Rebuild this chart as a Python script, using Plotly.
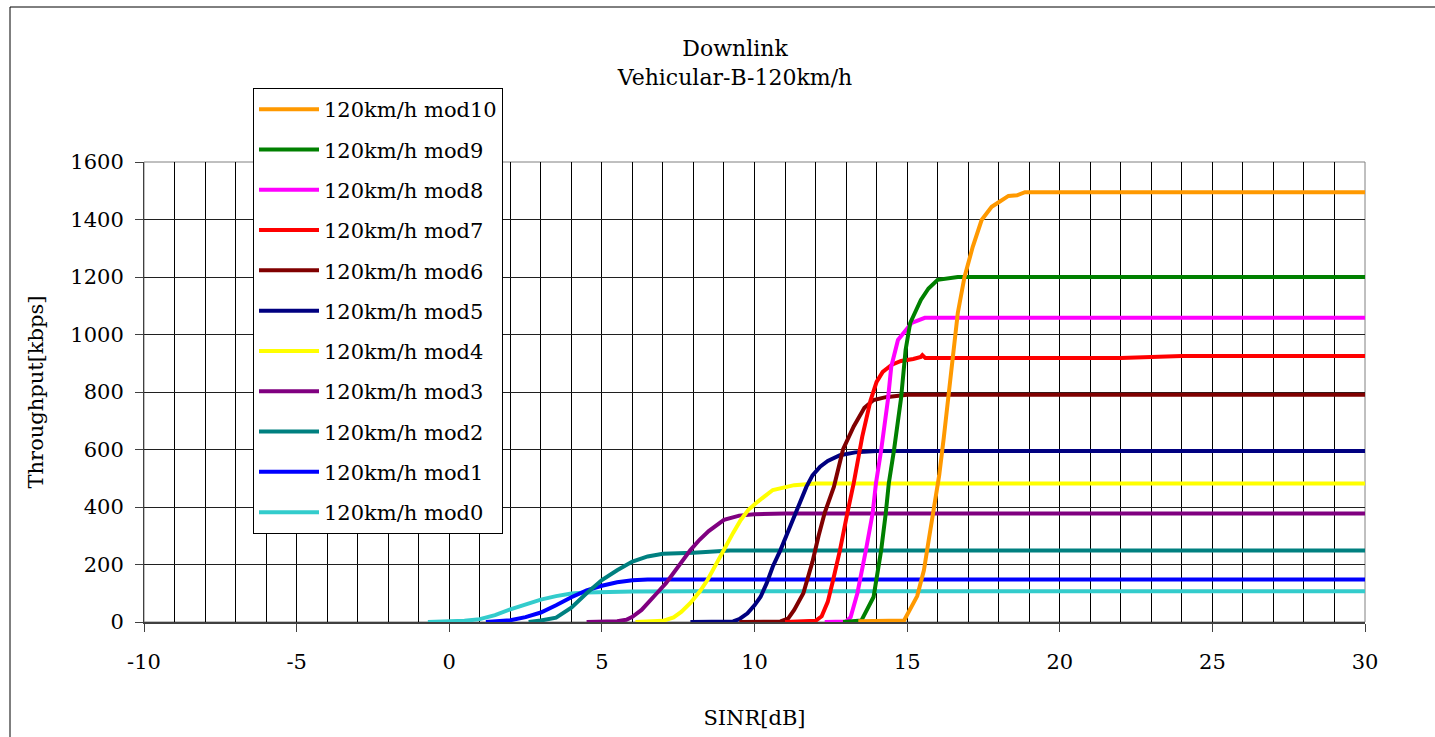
import plotly.graph_objects as go

# ---- data ----
series_names = ["120km/h mod0", "120km/h mod1", "120km/h mod2", "120km/h mod3",
                "120km/h mod4", "120km/h mod5", "120km/h mod6", "120km/h mod7",
                "120km/h mod8", "120km/h mod9", "120km/h mod10"]
series_colors = ["#33CCCC", "#0000FF", "#008080", "#800080", "#FFFF00", "#000080",
                 "#800000", "#FF0000", "#FF00FF", "#008000", "#FF9900"]

x_mod0 = [-0.7, 0.0, 0.5, 1.0, 1.5, 2.0, 2.5, 3.0, 3.5, 4.0, 4.5, 5.0, 6.0, 8.0, 30.0]
y_mod0 = [0, 1, 4, 10, 24, 44, 62, 78, 90, 99, 103, 105, 106, 107, 107]

x_mod1 = [1.2, 2.0, 2.5, 3.0, 3.5, 4.0, 4.5, 5.0, 5.5, 6.0, 6.5, 8.0, 30.0]
y_mod1 = [0, 6, 17, 33, 58, 86, 110, 126, 138, 145, 148, 148, 148]

x_mod2 = [2.6, 3.0, 3.5, 4.0, 4.5, 5.0, 5.5, 6.0, 6.5, 7.0, 8.0, 9.0, 9.2, 30.0]
y_mod2 = [0, 5, 15, 50, 100, 146, 180, 210, 228, 237, 241, 245, 249, 249]

x_mod3 = [4.5, 5.5, 5.8, 6.0, 6.3, 6.6, 6.8, 7.1, 7.35, 7.6, 7.9, 8.2, 8.5, 9.0, 9.5, 10.0, 11.0, 30.0]
y_mod3 = [0, 3, 8, 18, 42, 75, 100, 135, 170, 210, 250, 286, 316, 355, 370, 375, 377, 377]

x_mod4 = [6.1, 7.0, 7.35, 7.6, 7.9, 8.2, 8.46, 8.7, 9.0, 9.3, 9.55, 9.8, 10.1, 10.6, 11.3, 12.0, 30.0]
y_mod4 = [0, 4, 16, 35, 66, 105, 146, 195, 250, 310, 355, 390, 418, 459, 476, 482, 482]

x_mod5 = [7.9, 9.3, 9.5, 9.77, 10.0, 10.2, 10.4, 10.6, 10.85, 11.07, 11.3, 11.5, 11.7, 11.9, 12.15, 12.4, 12.8, 13.3, 14.0, 30.0]
y_mod5 = [0, 2, 10, 30, 58, 88, 135, 193, 250, 309, 370, 424, 470, 510, 540, 560, 580, 590, 595, 595]

x_mod6 = [9.5, 10.85, 11.1, 11.3, 11.6, 11.9, 12.1, 12.3, 12.6, 12.9, 13.25, 13.6, 13.9, 14.3, 15.0, 30.0]
y_mod6 = [0, 2, 12, 42, 100, 210, 300, 380, 470, 600, 680, 745, 772, 782, 790, 790]

x_mod7 = [11.0, 12.0, 12.2, 12.4, 12.55, 12.8, 13.04, 13.25, 13.53, 13.8, 14.0, 14.2, 14.5, 14.8, 15.2, 15.45, 15.5, 15.6, 22.0, 24.0, 30.0]
y_mod7 = [0, 4, 20, 70, 135, 250, 378, 483, 645, 770, 835, 870, 895, 908, 915, 922, 928, 918, 918, 925, 925]

x_mod8 = [12.3, 13.0, 13.15, 13.37, 13.65, 13.87, 13.98, 14.15, 14.37, 14.48, 14.7, 15.15, 15.58, 30.0]
y_mod8 = [0, 2, 17, 100, 250, 378, 483, 598, 772, 888, 981, 1040, 1058, 1058]

x_mod9 = [12.9, 13.5, 13.9, 14.15, 14.3, 14.4, 14.57, 14.8, 14.95, 15.1, 15.45, 15.7, 16.0, 16.66, 30.0]
y_mod9 = [0, 5, 87, 250, 378, 483, 598, 777, 946, 1040, 1120, 1160, 1190, 1200, 1200]

x_mod10 = [13.4, 14.9, 15.33, 15.55, 15.7, 15.88, 16.05, 16.2, 16.43, 16.66, 16.88, 17.15, 17.44, 17.77, 18.0, 18.32, 18.6, 18.86, 30.0]
y_mod10 = [3, 5, 90, 180, 280, 400, 510, 640, 860, 1075, 1200, 1305, 1398, 1444, 1460, 1482, 1484, 1495, 1495]

x_series = [x_mod0, x_mod1, x_mod2, x_mod3, x_mod4, x_mod5, x_mod6, x_mod7, x_mod8, x_mod9, x_mod10]
y_series = [y_mod0, y_mod1, y_mod2, y_mod3, y_mod4, y_mod5, y_mod6, y_mod7, y_mod8, y_mod9, y_mod10]

x_tick_vals = [-10, -5, 0, 5, 10, 15, 20, 25, 30]
x_tick_text = ["-10", "-5", "0", "5", "10", "15", "20", "25", "30"]
y_tick_vals = [0, 200, 400, 600, 800, 1000, 1200, 1400, 1600]

FONT = "DejaVu Serif"
FS = 21

fig = go.Figure()
n = len(series_names)
for i, (name, color, xs, ys) in enumerate(zip(series_names, series_colors, x_series, y_series)):
    fig.add_trace(go.Scatter(x=xs, y=ys, mode="lines", name=name, legendgroup=name,
                             legendrank=n - i,
                             line=dict(color=color, width=4)))

# plot-area geometry (px)
W, H = 1435, 737
L, R, T, B = 144, 1365, 162, 622
pw, ph = R - L, B - T

def px2paper_x(px):
    return (px - L) / pw

def px2paper_y(py):
    return (B - py) / ph

fig.update_layout(
    width=W, height=H,
    margin=dict(l=L, r=W - R, t=T, b=H - B, autoexpand=False),
    paper_bgcolor="white", plot_bgcolor="white",
    font=dict(family=FONT, size=FS, color="black"),
    title=dict(text="Downlink<br>Vehicular-B-120km/h", x=735 / W, xanchor="center",
               xref="container", y=1 - 56 / H, yanchor="top", yref="container",
               font=dict(family=FONT, size=22, color="black")),
    showlegend=True,
    legend=dict(x=px2paper_x(253), y=px2paper_y(88), xanchor="left", yanchor="top",
                bgcolor="white", bordercolor="black", borderwidth=1,
                traceorder="grouped", tracegroupgap=10, maxheight=600, itemwidth=60,
                font=dict(family=FONT, size=FS, color="black")),
    xaxis=dict(range=[-10, 30], tickvals=x_tick_vals, ticktext=x_tick_text,
               showgrid=True, gridcolor="black", gridwidth=1,
               minor=dict(dtick=1, showgrid=True, gridcolor="black", gridwidth=1, ticks=""),
               showline=True, linecolor="#404040", linewidth=2, ticks="outside", ticklen=8,
               tickcolor="#404040", tickwidth=1, ticklabelstandoff=12, zeroline=False,
               tickfont=dict(family=FONT, size=FS),
               title=dict(text="SINR[dB]", standoff=37, font=dict(family=FONT, size=FS))),
    yaxis=dict(range=[0, 1600], tickvals=y_tick_vals, showgrid=True, gridcolor="#202020", gridwidth=1,
               showline=True, linecolor="#404040", linewidth=1, ticks="outside", ticklen=8,
               tickcolor="#404040", tickwidth=1, ticklabelstandoff=7, zeroline=False,
               tickfont=dict(family=FONT, size=FS),
               title=dict(text="Throughput[kbps]", standoff=20, font=dict(family=FONT, size=FS))),
    shapes=[
        dict(type="rect", xref="paper", yref="paper",
             x0=px2paper_x(10), x1=px2paper_x(1500), y0=px2paper_y(800), y1=px2paper_y(7),
             line=dict(color="black", width=1), fillcolor="rgba(0,0,0,0)", layer="below"),
        dict(type="rect", xref="paper", yref="paper", x0=0, x1=1, y0=0, y1=1,
             line=dict(color="#808080", width=1), fillcolor="rgba(0,0,0,0)", layer="below"),
    ],
)

fig.write_html("out.html")
